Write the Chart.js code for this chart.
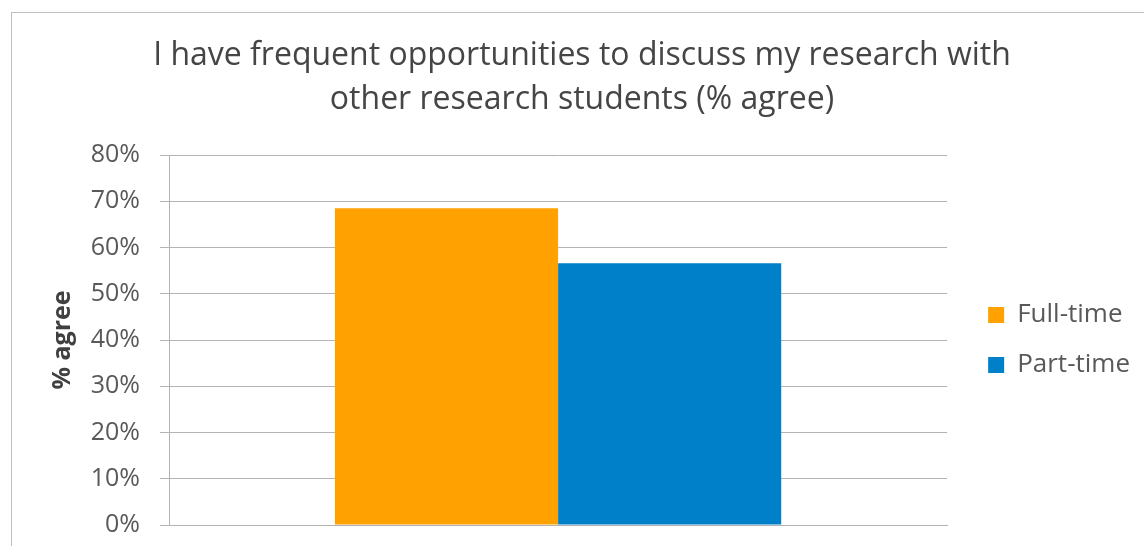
<!DOCTYPE html>
<html>
<head>
<meta charset="utf-8">
<script src="https://cdn.jsdelivr.net/npm/chart.js@4/dist/chart.umd.min.js"></script>
<style>
  body { margin: 0; background: #fff; overflow: hidden; }
  #wrap { position: relative; width: 1144px; height: 546px; }
  #frame {
    position: absolute; left: 11px; top: 12px;
    width: 1200px; height: 600px;
    border: 1px solid #bdbdbd;
  }
  #wrap canvas { position: absolute; left: 0; top: 0; }
</style>
</head>
<body>
<div id="wrap">
  <div id="frame"></div>
  <canvas id="agreeChart" width="1144" height="546"></canvas>
</div>
<script>
  const chartTitle = ["I have frequent opportunities to discuss my research with", "other research students (% agree)"];
  const categories = [""];
  const seriesNames = ["Full-time", "Part-time"];
  const fullTime = [68.5];
  const partTime = [56.6];
  const yTicks = [0, 10, 20, 30, 40, 50, 60, 70, 80];

  const gridColor = "#b3b3b3";
  const textColor = "#595959";

  window.onload = () => {
    const ctx = document.getElementById("agreeChart").getContext("2d");
    new Chart(ctx, {
      type: "bar",
      data: {
        labels: categories,
        datasets: [
          { label: seriesNames[0], data: fullTime, backgroundColor: "#ffa100" },
          { label: seriesNames[1], data: partTime, backgroundColor: "#0080c9" }
        ]
      },
      options: {
        responsive: false,
        animation: false,
        events: [],
        layout: { padding: { left: 24, right: 4, top: 12, bottom: 6 } },
        datasets: {
          bar: { categoryPercentage: 0.5735, barPercentage: 1.0 }
        },
        plugins: {
          title: {
            display: true,
            text: chartTitle,
            color: "#454545",
            font: { family: "'Open Sans'", size: 32, weight: "normal", lineHeight: 1.375 },
            padding: { top: 22, bottom: 33 }
          },
          legend: {
            position: "right",
            fullSize: false,
            labels: {
              color: textColor,
              font: { family: "'Open Sans'", size: 26 },
              boxWidth: 16,
              boxHeight: 16,
              padding: 24
            }
          },
          tooltip: { enabled: false }
        },
        scales: {
          x: {
            ticks: { display: false },
            grid: { display: false },
            border: { display: true, color: gridColor, width: 1 },
            afterFit: s => { s.height = 0; }
          },
          y: {
            min: 0,
            max: 80,
            afterBuildTicks: s => { s.ticks = yTicks.map(v => ({ value: v })); },
            ticks: {
              color: textColor,
              font: { family: "'Open Sans'", size: 25 },
              padding: 20,
              callback: v => v + "%"
            },
            grid: { color: gridColor, lineWidth: 1, tickLength: 9 },
            border: { display: true, color: gridColor, width: 1 },
            title: {
              display: true,
              text: "% agree",
              color: "#404040",
              font: { family: "'Open Sans'", size: 25, weight: "bold" },
              padding: { top: 24, bottom: 0 }
            },
            // fixed axis width; only half a label of room above and below
            afterFit: s => {
              s.width = 145;
              s.paddingTop = 15;
              s.paddingBottom = 21;
            }
          },
          gap: {
            position: "right",
            display: true,
            ticks: { display: false },
            grid: { display: false, drawTicks: false },
            border: { display: false },
            afterFit: s => { s.width = 17; }
          }
        }
      }
    });
  };
</script>
</body>
</html>
